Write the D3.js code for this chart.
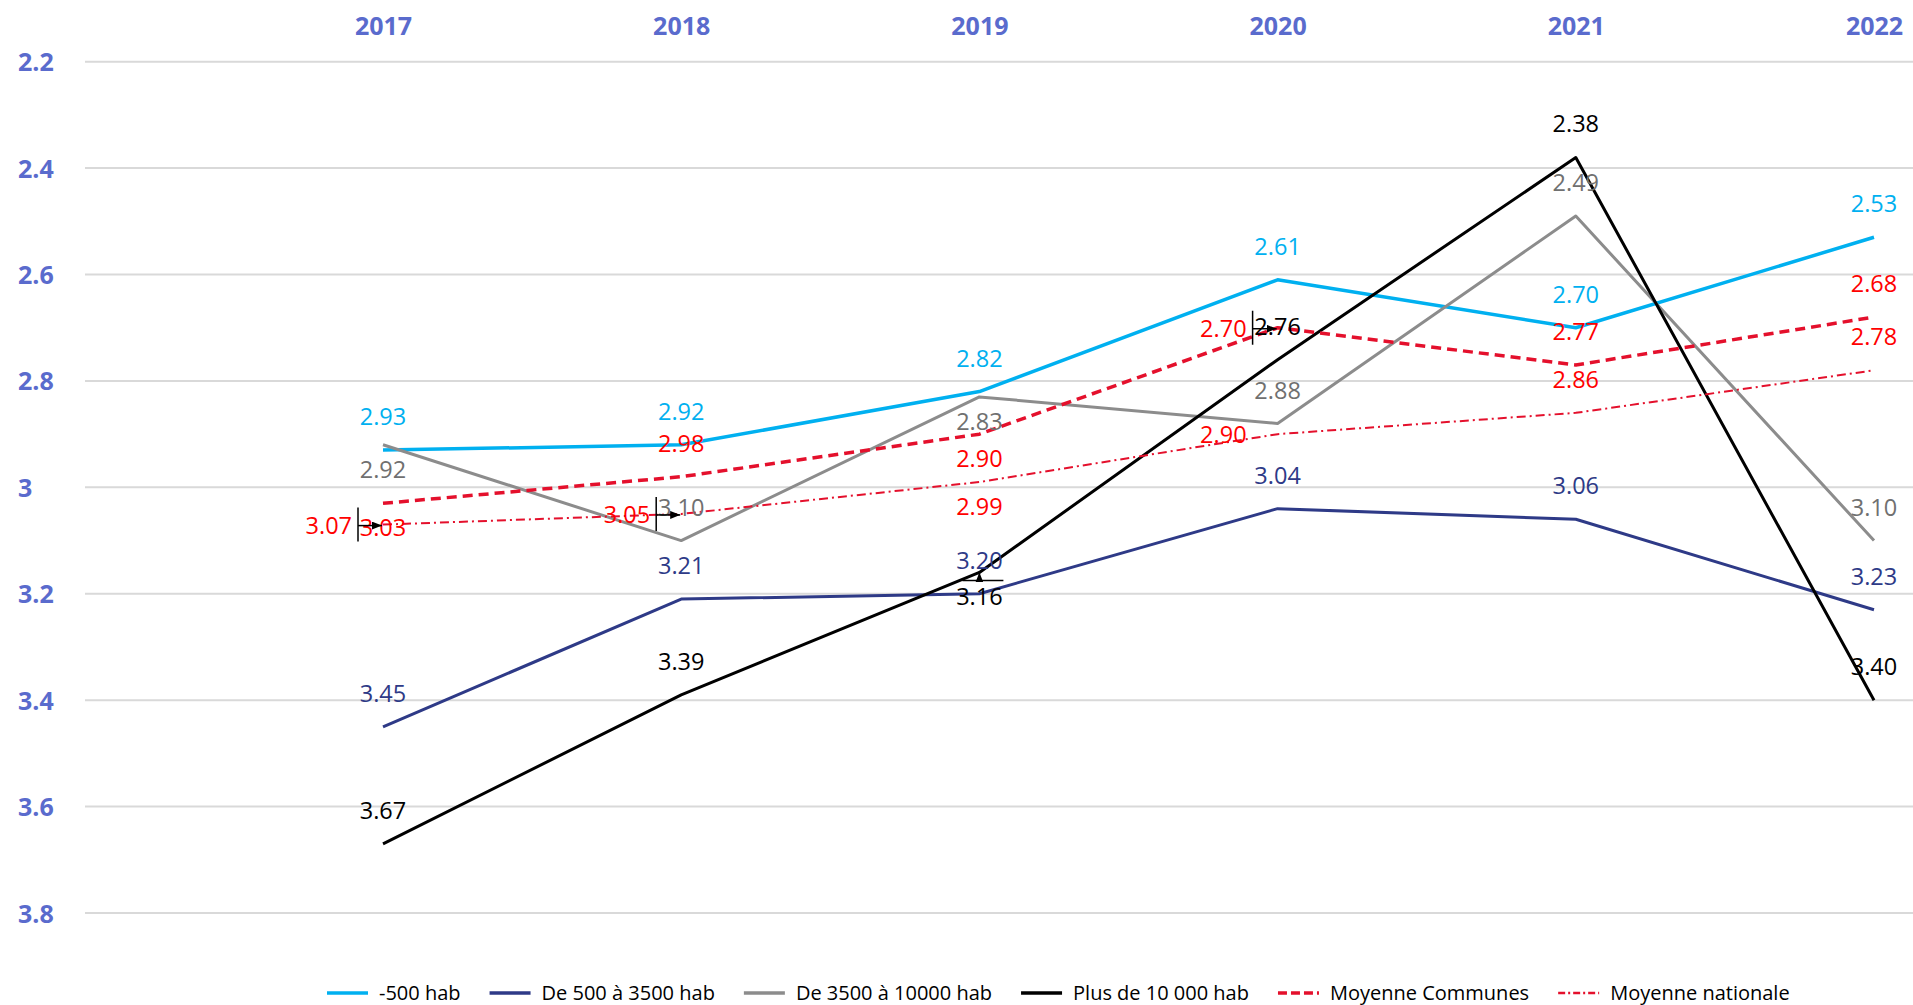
<!DOCTYPE html>
<html>
<head>
<meta charset="utf-8">
<script src="https://cdn.jsdelivr.net/npm/d3@7"></script>
<style>
  body { margin: 0; background: #fff; }
  svg { display: block; }
  text { font-family: "Open Sans", "Noto Sans", sans-serif; }
</style>
</head>
<body>
<script>
// données
const years = ['2017', '2018', '2019', '2020', '2021', '2022'];
const yTicks = [2.2, 2.4, 2.6, 2.8, 3.0, 3.2, 3.4, 3.6, 3.8];

const moins500 = [2.93, 2.92, 2.82, 2.61, 2.70, 2.53];
const de500a3500 = [3.45, 3.21, 3.20, 3.04, 3.06, 3.23];
const de3500a10000 = [2.92, 3.10, 2.83, 2.88, 2.49, 3.10];
const plus10000 = [3.67, 3.39, 3.16, 2.76, 2.38, 3.40];
const moyenneCommunes = [3.03, 2.98, 2.90, 2.70, 2.77, 2.68];
const moyenneNationale = [3.07, 3.05, 2.99, 2.90, 2.86, 2.78];

const seriesNames = ['-500 hab', 'De 500 à 3500 hab', 'De 3500 à 10000 hab',
    'Plus de 10 000 hab', 'Moyenne Communes', 'Moyenne nationale'];

const width = 1913;
const height = 1005;

// style de chaque série (position des étiquettes comme dans l'original)
const series = [
    { values: moins500, color: '#00b0f0', label: '#00b0f0', w: 3.5, dash: null,
      pos: ['a', 'a', 'a', 'a', 'a', 'a'] },
    { values: de500a3500, color: '#2e3a87', label: '#2e3a87', w: 3, dash: null,
      pos: ['a', 'a', 'a', 'a', 'a', 'a'] },
    { values: de3500a10000, color: '#8c8c8c', label: '#707070', w: 3, dash: null,
      pos: ['b', 'a', 'b', 'a', 'a', 'a'] },
    { values: plus10000, color: '#000000', label: '#000000', w: 3, dash: null,
      pos: ['a', 'a', 'b', 'a', 'a', 'a'] },
    { values: moyenneCommunes, color: '#e4102c', label: '#ff0000', w: 3.5, dash: '10,6',
      pos: ['b', 'a', 'b', 'l', 'a', 'a'] },
    { values: moyenneNationale, color: '#e4102c', label: '#ff0000', w: 2, dash: '9,4,2,4',
      pos: ['l', 'l', 'b', 'l', 'a', 'a'] },
];
series.forEach((s, i) => s.name = seriesNames[i]);

// petits traits de rappel laissés par Excel
const leaders = [
    { s: 5, year: '2017', type: 'left' },
    { s: 5, year: '2018', type: 'left' },
    { s: 4, year: '2020', type: 'left' },
    { s: 3, year: '2019', type: 'below' },
];

const svg = d3.select('body')
    .append('svg')
    .attr('width', width)
    .attr('height', height);

svg.append('defs').append('marker')
    .attr('id', 'arrow')
    .attr('markerUnits', 'userSpaceOnUse')
    .attr('markerWidth', 10)
    .attr('markerHeight', 8)
    .attr('refX', 10)
    .attr('refY', 4)
    .attr('orient', 'auto')
    .append('path')
    .attr('d', 'M0,0 L10,4 L0,8 Z')
    .attr('fill', '#000');

const x = d3.scalePoint()
    .domain(years)
    .range([383, 1874]);

const y = d3.scaleLinear()
    .domain([2.2, 3.8])
    .range([61.7, 913]);

// grille
svg.append('g')
    .selectAll('line')
    .data(yTicks)
    .join('line')
    .attr('x1', 85)
    .attr('x2', width)
    .attr('y1', d => y(d))
    .attr('y2', d => y(d))
    .attr('stroke', '#d9d9d9')
    .attr('stroke-width', 2);

// axe vertical (inversé)
const yAxis = d3.axisLeft(y)
    .tickValues(yTicks)
    .tickFormat(d => String(+d.toFixed(1)))
    .tickSize(0);
const yAxisGroup = svg.append('g')
    .attr('transform', 'translate(18,0)')
    .call(yAxis);
yAxisGroup.select('.domain').remove();
yAxisGroup.selectAll('text')
    .attr('x', 0)
    .attr('dy', '0.36em')
    .attr('text-anchor', 'start')
    .attr('fill', '#5a6bcd')
    .style('font-size', '25px')
    .style('font-weight', 'bold')
    .style('font-family', '"Open Sans", sans-serif');

// axe des années en haut
const xAxis = d3.axisTop(x).tickSize(0);
const xAxisGroup = svg.append('g')
    .attr('transform', 'translate(0,35)')
    .call(xAxis);
xAxisGroup.select('.domain').remove();
xAxisGroup.selectAll('text')
    .attr('y', 0)
    .attr('dy', 0)
    .attr('fill', '#5a6bcd')
    .style('font-size', '25px')
    .style('font-weight', 'bold')
    .style('font-family', '"Open Sans", sans-serif');

// courbes
const line = d3.line()
    .x((d, i) => x(years[i]))
    .y(d => y(d));

svg.append('g')
    .selectAll('path')
    .data(series)
    .join('path')
    .attr('d', d => line(d.values))
    .attr('fill', 'none')
    .attr('stroke', d => d.color)
    .attr('stroke-width', d => d.w)
    .attr('stroke-dasharray', d => d.dash)
    .attr('stroke-linejoin', 'round');

// étiquettes de données
const labelData = [];
series.forEach(s => {
    s.values.forEach((v, i) => {
        labelData.push({ v, year: years[i], pos: s.pos[i], color: s.label });
    });
});

svg.append('g')
    .selectAll('text')
    .data(labelData)
    .join('text')
    .attr('x', d => d.pos === 'l' ? x(d.year) - 31 : x(d.year))
    .attr('y', d => {
        if (d.pos === 'a') return y(d.v) - 25;
        if (d.pos === 'b') return y(d.v) + 33;
        return y(d.v) + 9;
    })
    .attr('text-anchor', d => d.pos === 'l' ? 'end' : 'middle')
    .attr('fill', d => d.color)
    .style('font-size', '23.5px')
    .text(d => d.v.toFixed(2));

// traits de rappel
const lg = svg.append('g').attr('stroke', '#000').attr('stroke-width', 1.5);
leaders.forEach(l => {
    const px = x(l.year);
    const py = y(series[l.s].values[years.indexOf(l.year)]);
    if (l.type === 'left') {
        lg.append('line')
            .attr('x1', px - 25).attr('x2', px - 25)
            .attr('y1', py - 17).attr('y2', py + 17);
        lg.append('line')
            .attr('x1', px - 25).attr('x2', px - 1)
            .attr('y1', py + 1).attr('y2', py + 1)
            .attr('marker-end', 'url(#arrow)');
    } else {
        lg.append('line')
            .attr('x1', px - 17).attr('x2', px + 24)
            .attr('y1', py + 8).attr('y2', py + 8);
        lg.append('line')
            .attr('x1', px).attr('x2', px)
            .attr('y1', py + 8).attr('y2', py)
            .attr('marker-end', 'url(#arrow)');
    }
});

// légende
const legend = svg.append('g').attr('transform', 'translate(327,993)');
let lx = 0;
series.forEach(s => {
    const item = legend.append('g').attr('transform', `translate(${lx},0)`);
    item.append('line')
        .attr('x1', 0).attr('x2', 41)
        .attr('y1', 0).attr('y2', 0)
        .attr('stroke', s.color)
        .attr('stroke-width', s.dash === '9,4,2,4' ? 2.5 : 3.5)
        .attr('stroke-dasharray', s.dash === '10,6' ? '9,4' : (s.dash ? '7,3,2,3' : null));
    const t = item.append('text')
        .attr('x', 52)
        .attr('y', 0)
        .attr('dy', '0.35em')
        .attr('fill', '#000')
        .style('font-size', '20px')
        .text(s.name);
    lx += 52 + t.node().getComputedTextLength() + 29;
});
</script>
</body>
</html>
